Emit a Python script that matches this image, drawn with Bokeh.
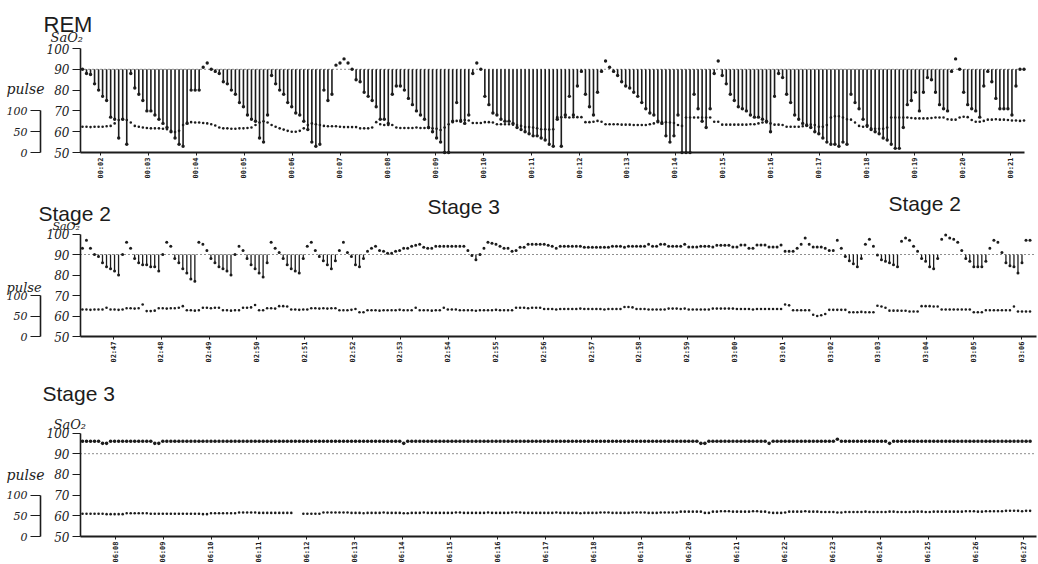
import math
from bokeh.plotting import figure
from bokeh.models import Range1d, LinearAxis, FixedTicker, Label, ColumnDataSource
from bokeh.layouts import column
from bokeh.embed import file_html
from bokeh.resources import INLINE

# ---------------------------------------------------------------- data
STEP_MIN = 0.084          # one sample ~ every 5 s (minutes)

P1_TITLE = "REM"
P1_START = 1.624
P1_TICKS = [2, 3, 4, 5, 6, 7, 8, 9, 10, 11, 12, 13, 14, 15, 16, 17, 18, 19, 20, 21]
P1_TICK_LABELS = ["00:02", "00:03", "00:04", "00:05", "00:06", "00:07", "00:08", "00:09", "00:10",
                  "00:11", "00:12", "00:13", "00:14", "00:15", "00:16", "00:17", "00:18", "00:19",
                  "00:20", "00:21"]
P1_SAO2 = [
    90, 88, 87.5, 83, 80, 77, 75, 67, 66, 57, 66, 54, 88,
    81, 78, 75, 70, 70, 68, 66, 64, 62, 60, 57, 54, 53, 64, 80, 80, 80,
    91, 93, 90, 89, 88, 84, 83, 80, 78, 74, 72, 68, 66, 65, 57, 55, 68,
    87, 83, 80, 78, 74, 72, 69, 68, 65, 61, 55, 53, 54, 80, 75, 78, 92,
    93, 95, 93, 90,
    85, 84, 79, 77, 75, 72, 66, 66, 64, 78, 82, 82, 80, 76, 73, 70, 68, 66, 62, 60, 57, 55, 50, 50,
    65, 74, 65, 64, 68,
    88, 93, 90,
    77, 73, 69, 68, 66, 65, 65, 64, 62, 61, 60, 59, 58, 58, 57, 56, 54, 53, 66, 53, 68, 77, 68, 82,
    89, 78, 72, 68, 79, 89,
    94, 91, 89,
    87, 84, 82, 81, 79, 77, 74, 71, 69, 68, 65, 64, 58, 55, 58, 68,
    50, 50, 50, 78, 71, 65, 62, 71, 88,
    94,
    87, 83, 78, 75, 72, 71, 70, 68, 67, 67, 66, 65, 60, 77, 88,
    86, 78, 74, 68, 66, 64, 63, 62, 60, 59, 57, 55, 54, 54, 53, 55, 54, 78, 74, 71, 66, 63, 61, 60,
    59, 57, 56, 54, 52, 52,
    62, 73, 75, 79, 70, 79, 86, 85, 79, 73, 71, 70, 89,
    95, 90,
    79, 73, 71, 70, 67, 82, 89, 84, 76, 71, 71, 71, 68, 82, 90, 90,
]
P1_PULSE = [
    62, 62, 61, 62, 62, 62, 63, 64, 70, 78, 80, 78, 72,
    64, 62, 60, 59, 58, 58, 58, 57, 56, 52, 49, 52, 66, 72, 73, 72,
    72, 71, 70, 68, 65, 60, 58, 58, 57, 57, 58, 58, 59, 60, 66, 72, 75, 72,
    66, 62, 58, 55, 52, 50, 50, 52, 58, 66, 70, 68, 66, 64, 63, 63, 63,
    62, 61, 61, 61, 61, 58, 58, 58, 60, 73, 68, 66, 66, 66, 60,
    59, 59, 59, 59, 60, 59, 59, 59, 58, 57, 54, 60, 68, 73, 76, 78, 78, 77,
    71, 71, 71, 73, 73, 72, 68, 68, 68, 68, 67, 66, 64, 61, 61, 60, 58, 56, 56, 55, 56,
    85, 85, 85, 84, 85, 85, 85, 73, 73, 74, 76, 74, 68, 68, 68, 68, 67, 67, 67, 66,
    66, 66, 66, 68, 70, 73, 73, 73, 72,
    71, 66, 64, 84, 84, 84, 84, 84, 84, 84, 74, 74,
    67, 67, 67, 67, 67, 67, 67, 68, 68, 70, 72, 72, 70, 67, 67, 66,
    62, 62, 62, 62, 63, 67, 67, 66, 62, 62, 66, 84, 87, 87, 84, 80, 79, 72,
    64, 62, 62, 58, 57, 57, 57, 60, 84, 84, 84, 84, 84, 83, 82, 82, 82, 82, 83,
    84, 84, 84, 80, 79, 79, 84, 86, 85, 78, 74, 74, 76,
    79, 79, 80, 79, 79, 78, 77, 77, 76, 77,
]

P2_TITLES = ["Stage 2", "Stage 3", "Stage 2"]
P2_START = -0.65
P2_TICKS = [0, 1, 2, 3, 4, 5, 6, 7, 8, 9, 10, 11, 12, 13, 14, 15, 16, 17, 18, 19]
P2_TICK_LABELS = ["02:47", "02:48", "02:49", "02:50", "02:51", "02:52", "02:53", "02:54", "02:55",
                  "02:56", "02:57", "02:58", "02:59", "03:00", "03:01", "03:02", "03:03", "03:04",
                  "03:05", "03:06"]
P2_SAO2 = [
    93, 97, 93, 90, 89, 86, 84, 83, 82, 80,
    90, 96, 93, 88, 86, 85, 85, 84, 84, 82,
    90, 96, 94, 88, 86, 83, 81, 78, 77, 96,
    95, 92, 88, 86, 84, 83, 82, 80, 90, 94,
    92, 88, 85, 83, 81, 79, 86, 96, 93, 91,
    88, 85, 83, 82, 81, 88, 94, 96, 92, 89,
    87, 85, 83, 87, 92, 96, 91,
    89, 85, 84, 88, 91.6, 93, 94, 92, 91.6, 90.6,
    90.6, 91.6, 92, 93, 93, 94, 94.5, 95, 93.5, 93,
    93, 94, 94, 94, 94, 94, 94, 94, 94, 92,
    89.5, 87.4, 90, 93, 96, 95.5, 95, 94, 93, 93,
    91.6, 92, 93.5, 93.5, 95, 95, 95, 95, 95, 94.5,
    94, 93, 94, 94, 94, 94, 94, 94, 93.5, 93.5,
    93.5, 93.5, 93.5, 93.5, 93.5, 94, 94, 94, 93.5, 94,
    94, 94, 94, 94, 95, 94, 94, 95, 95, 94,
    94, 94, 94, 95,
    93.6, 93.6, 93.6, 94, 94, 94, 93.6, 94.5, 94.5, 94.5,
    94.5, 93.6, 93.6, 94.6, 94.6, 93, 93, 94.6, 94.6, 94.6,
    93.6, 93.6, 93.6, 94.6, 91.6, 91.6, 91.6, 93, 95, 98,
    95, 93.6, 93.6, 93.6, 93, 92, 92, 97, 93, 89,
    87, 85.5, 84, 88, 95, 97.4, 94, 89.7, 87.5, 86.7,
    86, 85, 84, 96.5, 98, 97, 94, 91.6, 88, 86.7,
    84, 83, 88, 97.5, 99.5, 98, 97.5, 96, 92, 88,
    86.7, 84, 84, 84, 86.7, 93, 97, 96, 91, 86,
    84.5, 84, 81, 86, 97, 97,
]
P2_PULSE = [
    66, 66, 65, 66, 66, 66, 70, 66, 66, 65, 66, 69, 69, 68, 69, 78, 62, 62, 63,
    69, 69, 68, 69, 69, 70, 74, 64, 64, 63, 64, 70, 70, 69, 70, 70, 64, 64, 63, 64, 64,
    70, 70, 71, 77, 64, 64, 69, 69, 68, 74, 74, 73, 66, 66, 65, 66, 66, 69, 69, 68,
    69, 68, 69, 69,
    64, 64, 64, 65, 67, 59, 59,
    64, 64, 64, 63, 64, 64, 64, 64, 65, 64, 64, 64, 70, 64, 64, 64, 63, 64, 64, 70, 66, 66, 66,
    64, 64, 64, 64, 63, 64, 64, 64, 64, 65, 64, 64, 64, 64,
    70, 70, 70, 69, 70, 70, 70,
    67, 67, 67, 66, 67, 67, 67, 67, 67, 68, 67, 67, 67, 67, 67, 66, 67, 67, 67, 67,
    72, 72, 71, 67, 67, 67, 66, 66, 66, 66, 66, 68, 68, 68, 67, 68,
    66, 66, 66, 66, 66, 66, 68, 68, 68, 68, 68, 68,
    67, 67, 67, 67, 66, 67, 67, 67, 67, 67, 67, 67, 78, 76,
    64, 64, 64, 64, 64, 53, 50, 52, 55, 65, 65, 65, 65, 65,
    59, 59, 59, 60, 59, 59, 59, 75, 73, 70, 63, 63, 63, 63, 63, 61, 61, 61,
    74, 74, 74, 73, 73, 66, 66, 66, 66, 66, 66, 66, 66, 59, 59, 59,
    64, 64, 64, 64, 64, 64, 64, 73, 61, 61, 61, 61,
]

P3_TITLE = "Stage 3"
P3_START = -0.69
P3_TICKS = [0, 1, 2, 3, 4, 5, 6, 7, 8, 9, 10, 11, 12, 13, 14, 15, 16, 17, 18, 19]
P3_TICK_LABELS = ["06:08", "06:09", "06:10", "06:11", "06:12", "06:13", "06:14", "06:15", "06:16",
                  "06:17", "06:18", "06:19", "06:20", "06:21", "06:22", "06:23", "06:24", "06:25",
                  "06:26", "06:27"]
P3_SAO2 = [
    96, 96, 96, 96, 96, 95, 95, 96, 96, 96, 96, 96,
    96, 96, 96, 96, 96, 96, 95, 95, 96, 96, 96, 96,
    96, 96, 96, 96, 96, 96, 96, 96, 96, 96, 96, 96,
    96, 96, 96, 96, 96, 96, 96, 96, 96, 96, 96, 96,
    96, 96, 96, 96, 96, 96, 96, 96, 96, 96, 96, 96,
    96, 96, 96, 96, 96, 96, 96, 96, 96, 96, 96, 96,
    96, 96, 96, 96, 96, 96, 96, 96, 95, 96, 96, 96,
    96, 96, 96, 96, 96, 96, 96, 96, 96, 96, 96, 96,
    96, 96, 96, 96, 96, 96, 96, 96, 96, 96, 96, 96,
    96, 96, 96, 96, 96, 96, 96, 96, 96, 96, 96, 96,
    96, 96, 96, 96, 96, 96, 96, 96, 96, 96, 96, 96,
    96, 96, 96, 96, 96, 96, 96, 96, 96, 96, 96, 96,
    96, 96, 96, 96, 96, 96, 96, 96, 96, 96, 95, 95,
    96, 96, 96, 96, 96, 96, 96, 96, 96, 96, 96, 96,
    96, 96, 96, 95, 96, 96, 96, 96, 96, 96, 96, 96,
    96, 96, 96, 96, 96, 96, 96, 96, 97, 96, 96, 96,
    96, 96, 96, 96, 96, 96, 96, 96, 96, 95, 96, 96,
    96, 96, 96, 96, 96, 96, 96, 96, 96, 96, 96, 96,
    96, 96, 96, 96, 96, 96, 96, 96, 96, 96, 96, 96,
    96, 96, 96, 96, 96, 96, 96, 96, 96,
]
NA = float("nan")
P3_PULSE = [
    55, 55, 55, 55, 55, 55, 54, 54, 54, 54, 54, 56, 56, 56, 56, 56, 56,
    55, 55, 55, 55, 55, 55, 55, 55, 55, 55, 55, 55, 55, 54, 54,
    56, 56, 56, 56, 56, 56, 56, 58, 58, 58, 58, 58, 57, 57, 57, 57, 57, 57, 57, 57, 57,
    NA, NA, 55, 55, 55, 55, 55, 58, 58, 58, 58, 58, 58, 58,
    57, 57, 57, 56, 57, 57, 57, 57, 58, 57, 57, 57,
    57, 56, 56, 57, 57, 57, 58, 57, 57, 57, 57, 57,
    57, 57, 58, 58, 57, 57, 57, 57, 57, 57, 58, 57,
    57, 57, 57, 57, 58, 58, 58, 57, 57, 57, 57, 57,
    57, 57, 57, 58, 57, 57, 57, 57, 57, 56, 57, 57,
    57, 57, 58, 58, 58, 57, 57, 57, 57, 57, 58, 58,
    58, 58, 57, 57, 57, 58, 58, 58, 58, 58,
    60, 60, 60, 60, 60, 60, 57, 57,
    60, 60, 61, 61, 61, 60, 60, 60, 60, 60, 61, 61, 60, 60,
    58, 57, 57, 57, 58, 60, 60, 60, 60, 61, 60, 60, 60,
    59, 59, 59, 59, 58, 58, 59, 59, 59, 59, 59, 60, 59, 59, 59,
    59, 59, 60, 60, 59, 59, 59, 59, 60, 60, 60, 59, 59, 60, 60, 60, 60,
    60, 60, 60, 60, 61, 61, 61, 60, 60, 61, 61, 61, 61, 61, 62, 62, 62, 62, 61, 62, 62,
]

SAO2_TICKS = [50, 60, 70, 80, 90, 100]
PULSE_TICKS = [0, 50, 100]
BASELINE = 90

# ---------------------------------------------------------------- layout (pixels)
FIG_W = 1038
SAO2_AXIS_PX = 80      # x of the SaO2 axis line
PULSE_AXIS_PX = 40     # x of the pulse axis line
INK = "#1c1c1c"


def m_at(cfg, px):
    return cfg["m_ref"] + (px - cfg["px_ref"]) / cfg["ppm"]


def v_at(cfg, py):
    return 50 + (cfg["y50"] - py) / cfg["ppu"]


def add_text(p, cfg, px, py, text, size, font="Liberation Sans", style="normal"):
    p.add_layout(Label(x=m_at(cfg, px), y=v_at(cfg, py), text=text, text_align="left",
                       text_baseline="top", text_font=font, text_font_size=f"{size}px",
                       text_font_style=style, text_color=INK))


def style_axis(ax, tick_out, font, size, style):
    ax.major_tick_out = tick_out
    ax.major_tick_in = 0
    ax.minor_tick_out = 0
    ax.minor_tick_in = 0
    ax.major_label_text_font = font
    ax.major_label_text_font_size = size
    ax.major_label_text_font_style = style
    ax.major_label_text_color = INK
    ax.axis_line_color = INK
    ax.major_tick_line_color = INK


def make_panel(cfg, start, sao2, pulse, ticks, tick_labels):
    x0, x1 = m_at(cfg, 0), m_at(cfg, FIG_W)
    y0 = v_at(cfg, cfg["page_top"] + cfg["height"])
    y1 = v_at(cfg, cfg["page_top"])
    p = figure(width=FIG_W, height=cfg["height"], output_backend="svg", toolbar_location=None,
               x_range=Range1d(x0, x1), y_range=Range1d(y0, y1),
               min_border_left=0, min_border_right=0, min_border_top=0, min_border_bottom=0)
    p.outline_line_color = None
    p.grid.visible = False
    p.background_fill_color = "white"
    p.border_fill_color = "white"
    p.extra_y_ranges = {"pulse": Range1d((y0 - 50) * 5, (y1 - 50) * 5)}

    ax_start, ax_end = m_at(cfg, SAO2_AXIS_PX), m_at(cfg, cfg["axis_end_px"])

    t = [start + i * STEP_MIN for i in range(len(sao2))]
    tp = [start + i * STEP_MIN for i in range(len(pulse))]
    low = [(ti, v) for ti, v in zip(t, sao2) if v < BASELINE]
    bars = ColumnDataSource(dict(x=[a for a, _ in low], y=[b for _, b in low],
                                 y0=[BASELINE] * len(low)))

    # 90 % reference line (dotted)
    p.line([ax_start, ax_end], [BASELINE, BASELINE], line_color=INK, line_dash="1 3", line_width=1)
    p.segment(x0="x", y0="y0", x1="x", y1="y", source=bars, line_color=INK,
              line_width=cfg["bar_w"])
    p.scatter(t, sao2, size=cfg["dot"], color=INK, line_color=None)
    p.scatter(tp, pulse, size=2.6, color=INK, line_color=None, y_range_name="pulse")

    # time axis (drawn at SaO2 = 50)
    xa = p.xaxis[0]
    xa.fixed_location = 50
    xa.ticker = FixedTicker(ticks=ticks, minor_ticks=[])
    xa.bounds = (ax_start, ax_end)
    xa.major_label_overrides = {k: lab for k, lab in zip(ticks, tick_labels)}
    xa.major_label_orientation = math.pi / 2
    xa.major_label_standoff = 2
    xa.axis_line_width = 2
    style_axis(xa, 3, "DejaVu Sans Mono", "7px", "bold")

    # SaO2 axis
    ya = p.yaxis[0]
    ya.fixed_location = ax_start
    ya.ticker = FixedTicker(ticks=SAO2_TICKS, minor_ticks=[])
    ya.bounds = (50, 100)
    ya.major_label_standoff = 3
    ya.axis_line_width = 1.6
    style_axis(ya, 8, "DejaVu Serif", "12px", "italic")

    # pulse axis
    pa = LinearAxis(y_range_name="pulse", ticker=FixedTicker(ticks=PULSE_TICKS, minor_ticks=[]),
                    bounds=(0, 100), fixed_location=m_at(cfg, PULSE_AXIS_PX))
    pa.major_label_standoff = 3
    pa.axis_line_width = 1.6
    style_axis(pa, 10, "DejaVu Serif", "11px", "italic")
    p.add_layout(pa, "left")
    return p


# pixel geometry of each panel: minute m_ref sits at px_ref, ppm px per minute,
# SaO2 50 at y50, ppu px per SaO2 unit
CFG1 = dict(page_top=0, height=188, m_ref=2, px_ref=100, ppm=47.9, y50=152, ppu=2.08,
            axis_end_px=1024, bar_w=1.6, dot=3.4)
CFG2 = dict(page_top=188, height=178, m_ref=0, px_ref=113, ppm=47.8, y50=336, ppu=2.05,
            axis_end_px=1036, bar_w=1.3, dot=3.0)
CFG3 = dict(page_top=366, height=198, m_ref=0, px_ref=115, ppm=47.8, y50=536, ppu=2.07,
            axis_end_px=1036, bar_w=1.3, dot=3.6)

p1 = make_panel(CFG1, P1_START, P1_SAO2, P1_PULSE, P1_TICKS, P1_TICK_LABELS)
add_text(p1, CFG1, 43, 11, P1_TITLE, 22)
add_text(p1, CFG1, 50, 29, "SaO\u2082", 13, "DejaVu Serif", "italic")
add_text(p1, CFG1, 6, 80, "pulse", 14, "DejaVu Serif", "italic")

p2 = make_panel(CFG2, P2_START, P2_SAO2, P2_PULSE, P2_TICKS, P2_TICK_LABELS)
add_text(p2, CFG2, 38, 201, P2_TITLES[0], 21)
add_text(p2, CFG2, 427, 194, P2_TITLES[1], 21)
add_text(p2, CFG2, 888, 191, P2_TITLES[2], 21)
add_text(p2, CFG2, 52, 219, "SaO\u2082", 11, "DejaVu Serif", "italic")
add_text(p2, CFG2, 6, 279, "pulse", 13, "DejaVu Serif", "italic")

p3 = make_panel(CFG3, P3_START, P3_SAO2, P3_PULSE, P3_TICKS, P3_TICK_LABELS)
add_text(p3, CFG3, 42, 381, P3_TITLE, 21)
add_text(p3, CFG3, 53, 416, "SaO\u2082", 13, "DejaVu Serif", "italic")
add_text(p3, CFG3, 6, 466, "pulse", 14, "DejaVu Serif", "italic")

layout = column(p1, p2, p3, spacing=0)
open("out.html", "w").write(file_html(layout, INLINE))
